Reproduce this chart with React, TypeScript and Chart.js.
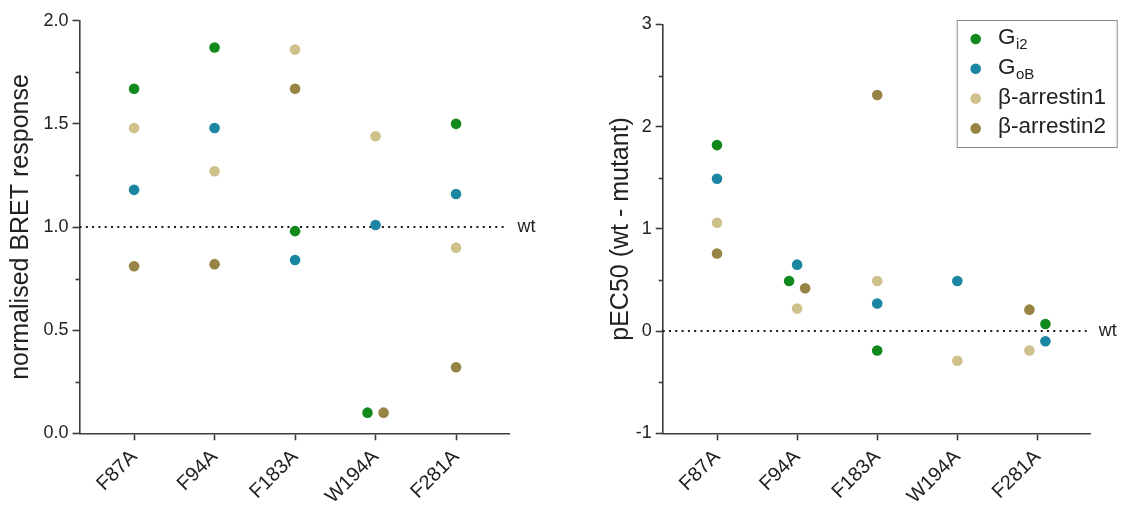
import React, { useEffect, useRef } from 'react';
import { Chart, registerables } from 'chart.js';

Chart.register(...registerables);

// ---------- data ----------
const categories = ['F87A', 'F94A', 'F183A', 'W194A', 'F281A'];
const seriesNames = ['Gi2', 'GoB', 'β-arrestin1', 'β-arrestin2'];
const legendMain = ['G', 'G', 'β-arrestin1', 'β-arrestin2'];
const legendSub = ['i2', 'oB', '', ''];
const seriesColors = ['#11891d', '#1a86a2', '#cfc18c', '#978343'];

// normalised BRET response
const bretGi2 = [1.67, 1.87, 0.98, 0.1, 1.5];
const bretGoB = [1.18, 1.48, 0.84, 1.01, 1.16];
const bretArr1 = [1.48, 1.27, 1.86, 1.44, 0.9];
const bretArr2 = [0.81, 0.82, 1.67, 0.1, 0.32];

// pEC50 (wt - mutant)
const pecGi2 = [1.82, 0.49, -0.19, null, 0.07];
const pecGoB = [1.49, 0.65, 0.27, 0.49, -0.1];
const pecArr1 = [1.06, 0.22, 0.49, -0.29, -0.19];
const pecArr2 = [0.76, 0.42, 2.31, null, 0.21];

const leftYTickLabels = ['0.0', '0.5', '1.0', '1.5', '2.0'];
const rightYTickLabels = ['-1', '0', '1', '2', '3'];
const leftTitle = 'normalised BRET response';
const rightTitle = 'pEC50 (wt - mutant)';
const wtText = 'wt';
const leftWtLevel = 1;
const rightWtLevel = 0;

// horizontal jitter of overlapping points (category units)
const leftJitter = [
  [0, 0, 0, -0.1, 0],
  [0, 0, 0, 0, 0],
  [0, 0, 0, 0, 0],
  [0, 0, 0, 0.1, 0],
];
const rightJitter = [
  [0, -0.1, 0, 0, 0.1],
  [0, 0, 0, 0, 0.1],
  [0, 0, 0, 0, -0.1],
  [0, 0.1, 0, 0, -0.1],
];

// ---------- style ----------
const FONT = '"Liberation Sans", Arial, Helvetica, sans-serif';
const TEXT = '#222222';
const AXIS = '#3c3c3c';
const X_MIN = -0.678;
const X_MAX = 4.664;
const WT_LINE_END = 4.615;

const wtPlugin = {
  id: 'wtLabel',
  afterDatasetsDraw(chart: any) {
    const o = chart.options.plugins.wtLabel;
    if (!o) return;
    const ctx = chart.ctx;
    const x = chart.scales.x.getPixelForValue(WT_LINE_END) + o.gap;
    const y = chart.scales.y.getPixelForValue(o.value);
    ctx.save();
    ctx.fillStyle = TEXT;
    ctx.font = `18px ${FONT}`;
    ctx.textBaseline = 'middle';
    ctx.textAlign = 'left';
    ctx.fillText(wtText, x, y);
    ctx.restore();
  },
};

const minorTickPlugin = {
  id: 'minorTicks',
  afterDraw(chart: any) {
    const o = chart.options.plugins.minorTicks;
    if (!o) return;
    const ys = chart.scales.y;
    const ctx = chart.ctx;
    const left = chart.chartArea.left;
    ctx.save();
    ctx.strokeStyle = AXIS;
    ctx.lineWidth = 1.6;
    for (let v = o.min + o.major / 2; v < o.max; v += o.major) {
      const y = Math.round(ys.getPixelForValue(v)) + 0.5;
      ctx.beginPath();
      ctx.moveTo(left - 4, y);
      ctx.lineTo(left, y);
      ctx.stroke();
    }
    ctx.restore();
  },
};

const legendPlugin = {
  id: 'subLegend',
  afterDraw(chart: any) {
    const o = chart.options.plugins.subLegend;
    if (!o || !o.display) return;
    const ctx = chart.ctx;
    ctx.save();
    ctx.strokeStyle = '#8a8a8a';
    ctx.lineWidth = 1;
    ctx.strokeRect(o.left + 0.5, o.top + 0.5, o.width, o.height);
    legendMain.forEach((m, i) => {
      const y = o.firstRow + i * o.rowGap;
      ctx.fillStyle = seriesColors[i];
      ctx.beginPath();
      ctx.arc(o.dotX, y, 5.3, 0, Math.PI * 2);
      ctx.fill();
      ctx.fillStyle = TEXT;
      ctx.textBaseline = 'alphabetic';
      ctx.textAlign = 'left';
      ctx.font = `${o.fontSize}px ${FONT}`;
      const base = y + 5;
      ctx.fillText(m, o.textX, base);
      if (legendSub[i]) {
        const w = ctx.measureText(m).width;
        ctx.font = `${o.subSize}px ${FONT}`;
        ctx.fillText(legendSub[i], o.textX + w + 0.5, base + 5);
      }
    });
    ctx.restore();
  },
};

function scatterSets(values: (number | null)[][], jitter: number[][]) {
  return values.map((vals, s) => ({
    type: 'scatter',
    label: seriesNames[s],
    data: vals
      .map((v, i) => (v === null ? null : { x: i + jitter[s][i], y: v }))
      .filter((p) => p !== null),
    backgroundColor: seriesColors[s],
    borderWidth: 0,
    pointRadius: 5.3,
    pointHoverRadius: 5.3,
    order: 1,
  }));
}

function buildConfig(p: any) {
  const isMajor = (v: number) => {
    const k = Math.round((v - p.yMin) / p.major);
    return Math.abs(v - (p.yMin + k * p.major)) < 1e-6;
  };
  return {
    type: 'scatter',
    data: {
      datasets: [
        ...scatterSets(p.values, p.jitter),
        {
          type: 'line',
          label: 'wt',
          data: [
            { x: X_MIN, y: p.wt },
            { x: WT_LINE_END, y: p.wt },
          ],
          borderColor: '#1a1a1a',
          borderWidth: 2,
          borderDash: [2, 4.3],
          pointRadius: 0,
          fill: false,
          order: 10,
        },
      ],
    },
    options: {
      responsive: false,
      animation: false,
      devicePixelRatio: 1,
      layout: { padding: { left: 0, right: p.padRight, top: p.padTop, bottom: 0 } },
      plugins: {
        legend: { display: false },
        tooltip: { enabled: false },
        wtLabel: { value: p.wt, gap: 12 },
        minorTicks: { min: p.yMin, max: p.yMax, major: p.major },
        subLegend: p.legend,
      },
      scales: {
        x: {
          type: 'linear',
          min: X_MIN,
          max: X_MAX,
          afterBuildTicks: (scale: any) => {
            scale.ticks = categories.map((_, i) => ({ value: i }));
          },
          afterFit: (scale: any) => {
            scale.height = 72.7;
            scale.paddingLeft = 0;
            scale.paddingRight = 0;
          },
          ticks: {
            autoSkip: false,
            minRotation: 45,
            maxRotation: 45,
            padding: 5,
            color: TEXT,
            font: { size: 20, family: FONT },
            callback: (v: number) => categories[Math.round(v)] ?? '',
          },
          grid: {
            display: true,
            drawOnChartArea: false,
            drawTicks: true,
            tickLength: 7,
            tickWidth: 1.6,
            tickColor: AXIS,
            color: AXIS,
          },
          border: { display: true, color: AXIS, width: 1.6 },
        },
        y: {
          type: 'linear',
          min: p.yMin,
          max: p.yMax,
          afterBuildTicks: (scale: any) => {
            const t = [];
            for (let k = 0; k < p.yLabels.length; k++) t.push({ value: p.yMin + k * p.major });
            scale.ticks = t;
          },
          afterFit: (scale: any) => {
            scale.width = p.axisWidth;
            scale.paddingTop = 0;
            scale.paddingBottom = 0;
          },
          ticks: {
            padding: 4,
            color: TEXT,
            font: { size: 18, family: FONT },
            callback: (v: number) =>
              isMajor(v) ? p.yLabels[Math.round((v - p.yMin) / p.major)] : '',
          },
          grid: {
            display: true,
            drawOnChartArea: false,
            drawTicks: true,
            tickLength: 7,
            tickWidth: 1.6,
            tickColor: AXIS,
            color: AXIS,
          },
          border: { display: true, color: AXIS, width: 1.6 },
          title: {
            display: true,
            text: p.title,
            color: TEXT,
            font: { size: 25, family: FONT },
            padding: { top: p.titlePad, bottom: 0 },
          },
        },
      },
    },
    plugins: [wtPlugin, minorTickPlugin, legendPlugin],
  };
}

function ChartCanvas({ config, width, left }: { config: any; width: number; left: number }) {
  const ref = useRef<HTMLCanvasElement | null>(null);
  useEffect(() => {
    if (!ref.current) return;
    const chart = new Chart(ref.current, config);
    return () => chart.destroy();
  }, [config]);
  return (
    <canvas
      ref={ref}
      width={width}
      height={506}
      style={{ position: 'absolute', left, top: 0, width, height: 506 }}
    />
  );
}

const leftConfig = buildConfig({
  values: [bretGi2, bretGoB, bretArr1, bretArr2],
  jitter: leftJitter,
  yMin: 0,
  yMax: 2,
  major: 0.5,
  yLabels: leftYTickLabels,
  title: leftTitle,
  wt: leftWtLevel,
  axisWidth: 79.5,
  padRight: 50.5,
  padTop: 20.7,
  titlePad: 6,
  legend: { display: false },
});

const rightConfig = buildConfig({
  values: [pecGi2, pecGoB, pecArr1, pecArr2],
  jitter: rightJitter,
  yMin: -1,
  yMax: 3,
  major: 1,
  yLabels: rightYTickLabels,
  title: rightTitle,
  wt: rightWtLevel,
  axisWidth: 102.7,
  padRight: 32.4,
  padTop: 24.5,
  titlePad: 46,
  legend: {
    display: true,
    left: 396.7,
    top: 20,
    width: 160,
    height: 127,
    dotX: 415.7,
    textX: 438,
    firstRow: 39,
    rowGap: 29.8,
    fontSize: 22.5,
    subSize: 15,
  },
});

export default function App() {
  return (
    <div
      style={{
        position: 'fixed',
        left: 0,
        top: 0,
        width: 1123,
        height: 506,
        background: '#ffffff',
        overflow: 'hidden',
      }}
    >
      <ChartCanvas config={leftConfig} width={560} left={0} />
      <ChartCanvas config={rightConfig} width={563} left={560} />
    </div>
  );
}
